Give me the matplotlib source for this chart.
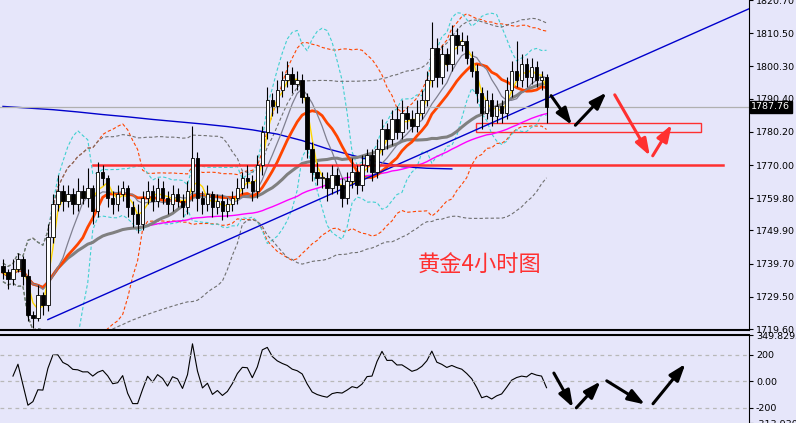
import matplotlib
matplotlib.use("Agg")
import matplotlib.pyplot as plt
import numpy as np
import pandas as pd

plt.rcParams['font.family'] = ['Noto Sans CJK SC', 'DejaVu Sans']

closes = [1737,1735,1738,1741,1736,1724,1723,1730,1727,1748,
          1758,1762,1759,1761,1758,1762,1760,1763,1756,1768,
          1766,1760,1758,1761,1763,1757,1755,1752,1760,1762,
          1759,1763,1760,1758,1761,1759,1757,1762,1772,1760,
          1758,1761,1757,1759,1756,1758,1760,1763,1766,1765,
          1762,1770,1780,1790,1788,1793,1796,1798,1795,1796,
          1791,1775,1768,1766,1766,1763,1767,1764,1760,1765,
          1768,1764,1770,1773,1768,1775,1781,1778,1784,1780,
          1786,1784,1782,1786,1790,1796,1806,1797,1804,1801,
          1810,1807,1808,1803,1799,1792,1786,1790,1785,1788,
          1786,1793,1799,1796,1801,1797,1800,1796,1797,1787.76]
open0 = 1739
upper_wick = [2,1,3,2,1,2,1,3,1,4, 3,5,2,3,2,4,2,6,1,3, 2,1,2,3,2,1,2,3,2,3,
              2,3,2,2,3,2,2,3,10,2, 2,3,1,2,2,2,2,3,2,4, 2,3,2,4,2,3,3,4,2,3,
              2,1,2,3,2,2,3,2,2,3, 4,2,3,2,2,3,3,2,3,4, 4,2,3,4,3,3,8,3,3,2,
              3,2,3,2,2,2,2,3,2,2, 2,4,3,9,3,2,3,2,2,1]
lower_wick = [2,3,2,1,3,2,3,1,3,2, 2,2,3,2,3,2,2,3,4,2, 2,3,3,2,2,3,4,3,2,2,
              3,2,2,3,2,2,3,2,3,4, 3,2,3,2,3,2,2,2,2,2, 3,2,3,2,3,2,2,2,3,2,
              2,3,3,2,3,4,2,3,3,2, 2,3,2,2,3,2,2,3,2,2, 2,3,2,2,2,2,2,3,2,2,
              2,3,2,2,2,3,5,2,3,2, 3,2,2,2,2,3,2,2,3,5]
blue_idx = [0,5,10,15,20,25,30,35,40,45,50,55,60,65,70,75,80,85,90]
blue_val = [1788,1787.5,1787,1786.3,1785.5,1784.8,1784,1783.3,1782.6,1781.8,
            1780.8,1779.5,1777.5,1775,1773,1771,1769.5,1769,1768.8]

ticks_main = [1719.60,1729.50,1739.70,1749.90,1759.80,1770.00,1780.20,1790.40,1800.30,1810.50,1820.70]
ticks_cci = [349.8295,200,0,-200,-313.9301]
cci_labels = ["349.8295","200","0.00","-200","-313.9301"]
last_price = 1787.76
title_txt = "黄金4小时图"

bg = "#E6E6FA"
c = pd.Series(closes, dtype=float)
o = pd.Series([open0] + closes[:-1], dtype=float)
h = np.maximum(o, c) + np.array(upper_wick)
l = np.minimum(o, c) - np.array(lower_wick)
x = np.arange(len(c))

fig = plt.figure(figsize=(7.96, 4.23), dpi=100, facecolor=bg)
ax = fig.add_axes([0, 93/423, 749/796, 330/423], facecolor=bg)
ax2 = fig.add_axes([0, 0, 749/796, 88/423], facecolor=bg)

xmax = 149.6
ax.set_xlim(-0.6, xmax)
ax.set_ylim(1719.3, 1820.6)

def ma(n):
    return c.rolling(n, min_periods=1).mean()
def sd(n):
    return c.rolling(n, min_periods=2).std().bfill()

for n, k, col in [(20, 2.0, "#FF4500"), (10, 2.0, "#40D0D0"), (40, 2.0, "#707070")]:
    m, s = ma(n), sd(n)
    ax.plot(x, m + k*s, color=col, lw=0.8, ls=(0, (3, 2)))
    ax.plot(x, m - k*s, color=col, lw=0.8, ls=(0, (3, 2)))

ax.plot(blue_idx, blue_val, color="#0000CC", lw=1.0)
ax.plot(x, ma(60), color="#FF00FF", lw=1.0)
ax.plot(x, ma(30), color="#808080", lw=2.2)
ax.plot(x, ma(12), color="#FF4500", lw=2.0)
ax.plot(x, ma(8), color="#808090", lw=0.9)
ax.plot(x, ma(3), color="#FFD700", lw=1.0)

w = 0.7
for i in x:
    ax.vlines(i, l[i], h[i], color="black", lw=0.8, zorder=3)
    up = c[i] >= o[i]
    lo_, hi_ = min(o[i], c[i]), max(o[i], c[i])
    ax.add_patch(plt.Rectangle((i - w/2, lo_), w, max(hi_ - lo_, 0.2),
                               facecolor="white" if up else "black",
                               edgecolor="black", lw=0.6, zorder=4))

ax.plot([9, xmax], [1722.5, 1818], color="#0000CC", lw=1.0)
ax.axhline(last_price, color="#B0B0B0", lw=0.9)
ax.plot([18, 144.4], [1770, 1770], color="#FF3030", lw=1.8)
ax.add_patch(plt.Rectangle((94.8, 1780.0), 45.2, 2.8, fill=False, edgecolor="#FF3030", lw=1))

def arr(a, x0, y0, x1, y1, col):
    a.annotate("", xy=(x1, y1), xytext=(x0, y0),
               arrowprops=dict(arrowstyle="-|>,head_length=1.0,head_width=0.35", color=col, lw=2.2))

arr(ax, 109.6, 1792, 114.4, 1781.6, "black")
arr(ax, 114.4, 1781.6, 121.4, 1792.9, "black")
arr(ax, 122.4, 1792.3, 130, 1772.1, "#FF3030")
arr(ax, 130, 1772.1, 134.4, 1783.1, "#FF3030")

ax.text(95.5, 1739.3, title_txt, color="#FF3030", fontsize=16, ha="center", va="center")

ax.set_xticks([])
ax.yaxis.tick_right()
ax.set_yticks(ticks_main)
ax.set_yticklabels([f"{t:.2f}" for t in ticks_main], fontsize=6.8, family="DejaVu Sans")
ax.tick_params(axis="y", length=3, pad=2)
for s in ["left", "top"]:
    ax.spines[s].set_visible(False)
ax.spines["bottom"].set_linewidth(1.5)
ax.text(1.003, (last_price - 1719.3)/(1820.6 - 1719.3), f"{last_price:.2f}", transform=ax.transAxes,
        fontsize=6.8, color="white", va="center", ha="left", family="DejaVu Sans",
        bbox=dict(facecolor="black", edgecolor="black", pad=1.0))

tp = (h + l + c) / 3
n = 14
sma = tp.rolling(n, min_periods=3).mean()
mad = tp.rolling(n, min_periods=3).apply(lambda v: np.mean(np.abs(v - v.mean())), raw=True)
cci = ((tp - sma) / (0.015 * mad)).clip(-300, 340)
ax2.plot(x, cci, color="black", lw=0.8)
ax2.set_xlim(-0.6, xmax)
ax2.set_ylim(-313.93, 349.83)
for v in [200, 0, -200]:
    ax2.axhline(v, color="#B8B8B8", lw=0.9, ls=(0, (3, 3)))
arr(ax2, 110.2, 81, 114.6, -215, "black")
arr(ax2, 114.6, -215, 120.2, 15, "black")
arr(ax2, 120.6, 15, 129.2, -185, "black")
arr(ax2, 130.0, -185, 137.2, 148, "black")
ax2.set_xticks([])
ax2.yaxis.tick_right()
ax2.set_yticks(ticks_cci)
ax2.set_yticklabels(cci_labels, fontsize=6.8, family="DejaVu Sans")
ax2.tick_params(axis="y", length=3, pad=2)
for s in ["left", "bottom"]:
    ax2.spines[s].set_visible(False)
ax2.spines["top"].set_linewidth(1.5)

fig.savefig("out.png", dpi=100, facecolor=bg)
